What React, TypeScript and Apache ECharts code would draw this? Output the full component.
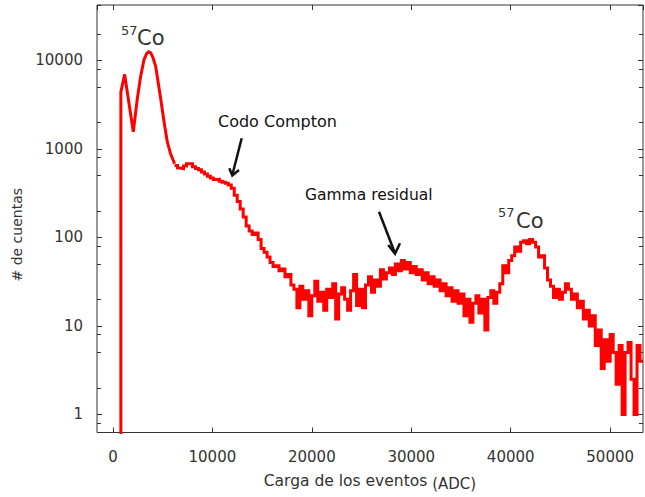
import React, { useEffect, useRef } from "react";
import * as echarts from "echarts";

// Low-energy part of the spectrum (fine binning, drawn as a continuous trace)
const peakAdc: number[] = [800, 800, 1180, 2050, 2450, 2790, 3125, 3400, 3600, 3800, 4000, 4300, 4810, 5140, 5470, 5800, 6200];
const peakCounts: number[] = [0.1, 4400, 6950, 1560, 3660, 6600, 10200, 12000, 12500, 12200, 11000, 8600, 3660, 2030, 1200, 880, 680];

// Rest of the histogram: bins of fixed width starting at binStart (ADC)
const binStart = 6200;
const binWidth = 300;
// counts per bin
const counts: number[] = [
  650, 610,
  600, 640, 680, 680, 630, 600, 580, 550, 520, 490,
  470, 450, 455, 430, 420, 410, 390, 360, 300, 255,
  210, 170, 135, 118, 108, 112, 95, 75, 68, 60,
  52, 47, 48, 42, 44, 36, 38, 29, 26, 16,
  28, 20, 25, 13, 22, 32, 19, 24, 15, 26,
  21, 30, 12, 23, 27, 20, 15, 25, 38, 17,
  26, 16, 29, 36, 24, 33, 28, 43, 34, 40,
  45, 38, 50, 42, 55, 44, 52, 40, 47, 38,
  43, 33, 40, 30, 36, 28, 33, 25, 30, 22,
  27, 19, 25, 18, 23, 13, 20, 11, 18, 22,
  14, 20, 9, 21, 25, 18, 24, 30, 48, 40,
  55, 62, 78, 70, 88, 92, 85, 95, 88, 78,
  60, 62, 45, 33, 28, 21, 26, 20, 24, 30,
  26, 20, 23, 16, 19, 12, 15, 10, 13, 6,
  9, 3.3, 7, 4, 8, 5, 2.2, 6, 1, 5,
  6.5, 2.5, 1, 6, 4,
];

const xMin = -1600;
const xMax = 53300;
const yMin = 0.625;
const yMax = 42300;
const minorFactors = [2, 5, 8];

const FONT = "DejaVu Sans";
const TXT = "#333333";
const FRAME = "#333333";
const RED = "#ff0000";

export default function App() {
  const ref = useRef<HTMLDivElement>(null);
  useEffect(() => {
    const chart = echarts.init(ref.current!, null, { renderer: "svg" });

    const peakData: number[][] = peakAdc.map((x, i) => [x, peakCounts[i]]);
    const data: number[][] = [];
    counts.forEach((c, i) => data.push([binStart + i * binWidth, c]));
    data.push([binStart + counts.length * binWidth, counts[counts.length - 1]]);

    const yAxes: any[] = [];
    const addY = (factor: number, position: string, labels: boolean, len: number) => {
      yAxes.push({
        type: "log",
        logBase: 10,
        position,
        min: yMin / factor,
        max: yMax / factor,
        axisLine: { show: false, onZero: false },
        splitLine: { show: false },
        axisTick: { show: true, inside: true, length: len, lineStyle: { color: FRAME, width: 1 } },
        axisLabel: labels
          ? {
              show: true,
              margin: 14,
              showMinLabel: false,
              showMaxLabel: false,
              fontFamily: FONT,
              fontSize: 15,
              color: TXT,
              formatter: (v: number) => String(Math.round(v)),
            }
          : { show: false },
        name: labels ? "# de cuentas" : "",
        nameLocation: "middle",
        nameGap: 73,
        nameRotate: 90,
        nameTextStyle: { fontFamily: FONT, fontSize: 14, color: TXT, padding: [0, 32, 0, 0] },
      });
    };
    addY(1, "left", true, 5);
    addY(1, "right", false, 5);
    minorFactors.forEach((f) => {
      addY(f, "left", false, 4);
      addY(f, "right", false, 4);
    });

    const xAxisBase = (position: string, labels: boolean) => ({
      type: "value",
      position,
      min: xMin,
      max: xMax,
      axisLine: { show: false, onZero: false },
      splitLine: { show: false },
      axisTick: { show: true, inside: true, length: 5, lineStyle: { color: FRAME, width: 1 } },
      axisLabel: labels
        ? {
            show: true,
            margin: 17,
            showMinLabel: false,
            showMaxLabel: false,
            fontFamily: FONT,
            fontSize: 15,
            color: TXT,
            formatter: (v: number) => String(v),
          }
        : { show: false },
    });

    const lineStyle = { color: RED, width: 3, join: "miter", cap: "butt" };

    const option: any = {
      animation: false,
      backgroundColor: "#ffffff",
      grid: {
        left: 97,
        right: 2,
        top: 5,
        bottom: 60,
        show: true,
        borderColor: FRAME,
        borderWidth: 1,
        backgroundColor: "transparent",
      },
      xAxis: [
        {
          ...xAxisBase("bottom", true),
          name: "{a|Carga de los eventos }{b|(ADC)}",
          nameLocation: "middle",
          nameGap: 40,
          nameTextStyle: {
            rich: {
              a: { fontFamily: FONT, fontSize: 15.5, color: TXT, lineHeight: 20, padding: [0, 0, 3, 0] },
              b: { fontFamily: FONT, fontSize: 15, color: TXT, lineHeight: 20, padding: [3, 0, 0, 0] },
            },
          },
        },
        xAxisBase("top", false),
      ],
      yAxis: yAxes,
      series: [
        {
          type: "line",
          xAxisIndex: 0,
          yAxisIndex: 0,
          symbol: "none",
          clip: true,
          data: peakData,
          lineStyle,
        },
        {
          type: "line",
          xAxisIndex: 0,
          yAxisIndex: 0,
          step: "end",
          symbol: "none",
          clip: true,
          data,
          lineStyle,
        },
      ],
      graphic: [
        { type: "text", x: 121, y: 30, style: { text: "57", font: `13px '${FONT}'`, fill: TXT, verticalAlign: "middle" } },
        { type: "text", x: 137, y: 38, style: { text: "Co", font: `21px '${FONT}'`, fill: TXT, verticalAlign: "middle" } },
        { type: "text", x: 498, y: 212, style: { text: "57", font: `13px '${FONT}'`, fill: TXT, verticalAlign: "middle" } },
        { type: "text", x: 516, y: 221, style: { text: "Co", font: `21px '${FONT}'`, fill: TXT, verticalAlign: "middle" } },
        { type: "text", x: 218, y: 121, style: { text: "Codo Compton", font: `16px '${FONT}'`, fill: "#111", verticalAlign: "middle" } },
        { type: "text", x: 305, y: 195, style: { text: "Gamma residual", font: `15.5px '${FONT}'`, fill: "#111", verticalAlign: "middle" } },
        { type: "line", shape: { x1: 241.7, y1: 138.3, x2: 232.3, y2: 175 }, style: { stroke: "#111", lineWidth: 2.5 } },
        { type: "polyline", shape: { points: [[229.3, 168.3], [232.3, 175.5], [239, 170]] }, style: { stroke: "#111", lineWidth: 2.5, fill: null } },
        { type: "line", shape: { x1: 379, y1: 211.7, x2: 395, y2: 253.3 }, style: { stroke: "#111", lineWidth: 2.5 } },
        { type: "polyline", shape: { points: [[388.3, 245], [395, 253.8], [400, 243.3]] }, style: { stroke: "#111", lineWidth: 2.5, fill: null } },
      ],
    };
    chart.setOption(option);
    return () => chart.dispose();
  }, []);
  return (
    <div
      ref={ref}
      style={{ position: "fixed", left: 0, top: 0, width: 645, height: 497, background: "#fff" }}
    />
  );
}
